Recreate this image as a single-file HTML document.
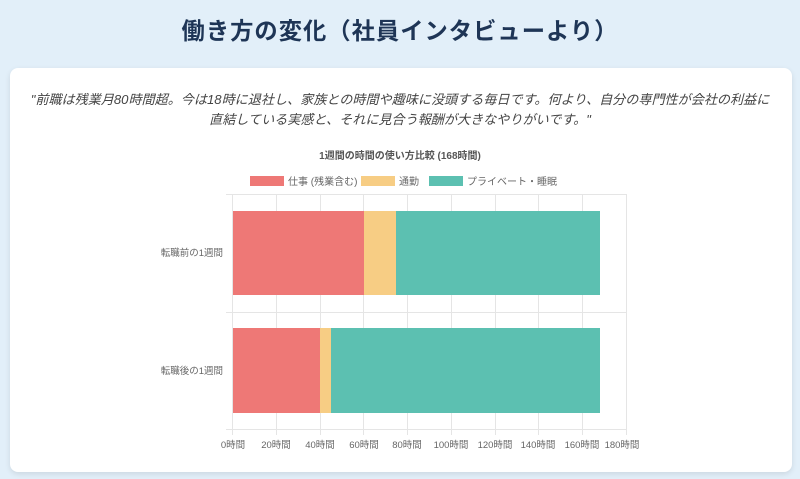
<!DOCTYPE html>
<html><head><meta charset="utf-8"><style>
body{margin:0;width:800px;height:479px;background:#e2eff9;font-family:"Liberation Sans","Noto Sans CJK JP",sans-serif;overflow:hidden;position:relative}
h1{position:absolute;top:12px;left:0;width:800px;margin:0;text-align:center;font-size:23.3px;font-weight:bold;color:#1e3556;letter-spacing:1px}
.card{position:absolute;left:10px;top:68px;width:782px;height:404px;background:#fff;border-radius:8px;box-shadow:0 2px 6px rgba(0,0,0,.1)}
.q{position:absolute;left:0;top:90px;width:800px;text-align:center;font-style:italic;font-size:13.1px;line-height:20px;color:#444;white-space:nowrap}
svg{position:absolute;left:0;top:0}
</style></head><body>
<h1>働き方の変化（社員インタビューより）</h1>
<div class="card"></div>
<div class="q">"前職は残業月80時間超。今は18時に退社し、家族との時間や趣味に没頭する毎日です。何より、自分の専門性が会社の利益に<br>直結している実感と、それに見合う報酬が大きなやりがいです。"</div>
<svg width="800" height="479" font-family="Liberation Sans, Noto Sans CJK JP, sans-serif">
<text x="400" y="159" text-anchor="middle" font-size="10" font-weight="bold" fill="#555">1週間の時間の使い方比較 (168時間)</text>
<rect x="250" y="176" width="34" height="10" fill="#ee7876"/><text x="288" y="185" font-size="10" fill="#666">仕事 (残業含む)</text>
<rect x="361" y="176" width="34" height="10" fill="#f7cd84"/><text x="399" y="185" font-size="10" fill="#666">通勤</text>
<rect x="429" y="176" width="34" height="10" fill="#5cc0b1"/><text x="467" y="185" font-size="10" fill="#666">プライベート・睡眠</text>
<g stroke="#e5e5e5" stroke-width="1">
<line x1="226" y1="194.5" x2="626" y2="194.5"/><line x1="226" y1="312.5" x2="626" y2="312.5"/><line x1="226" y1="429.5" x2="626" y2="429.5"/>
<line x1="232.5" y1="194" x2="232.5" y2="435"/><line x1="276.5" y1="194" x2="276.5" y2="435"/><line x1="320.5" y1="194" x2="320.5" y2="435"/><line x1="363.5" y1="194" x2="363.5" y2="435"/><line x1="407.5" y1="194" x2="407.5" y2="435"/><line x1="451.5" y1="194" x2="451.5" y2="435"/><line x1="495.5" y1="194" x2="495.5" y2="435"/><line x1="538.5" y1="194" x2="538.5" y2="435"/><line x1="582.5" y1="194" x2="582.5" y2="435"/><line x1="626.5" y1="194" x2="626.5" y2="435"/>
</g>
<rect x="233" y="211" width="131" height="84" fill="#ee7876"/><rect x="364" y="211" width="32" height="84" fill="#f7cd84"/><rect x="396" y="211" width="204" height="84" fill="#5cc0b1"/>
<rect x="233" y="328" width="87" height="85" fill="#ee7876"/><rect x="320" y="328" width="11" height="85" fill="#f7cd84"/><rect x="331" y="328" width="269" height="85" fill="#5cc0b1"/>
<g font-size="9.5" fill="#666" text-anchor="end"><text x="223" y="256">転職前の1週間</text><text x="223" y="374">転職後の1週間</text></g>
<g font-size="9.5" fill="#666" text-anchor="middle">
<text x="233" y="448">0時間</text><text x="276" y="448">20時間</text><text x="320" y="448">40時間</text><text x="364" y="448">60時間</text><text x="407" y="448">80時間</text><text x="451" y="448">100時間</text><text x="495" y="448">120時間</text><text x="538" y="448">140時間</text><text x="582" y="448">160時間</text><text x="622" y="448">180時間</text></g>
</svg>
</body></html>
